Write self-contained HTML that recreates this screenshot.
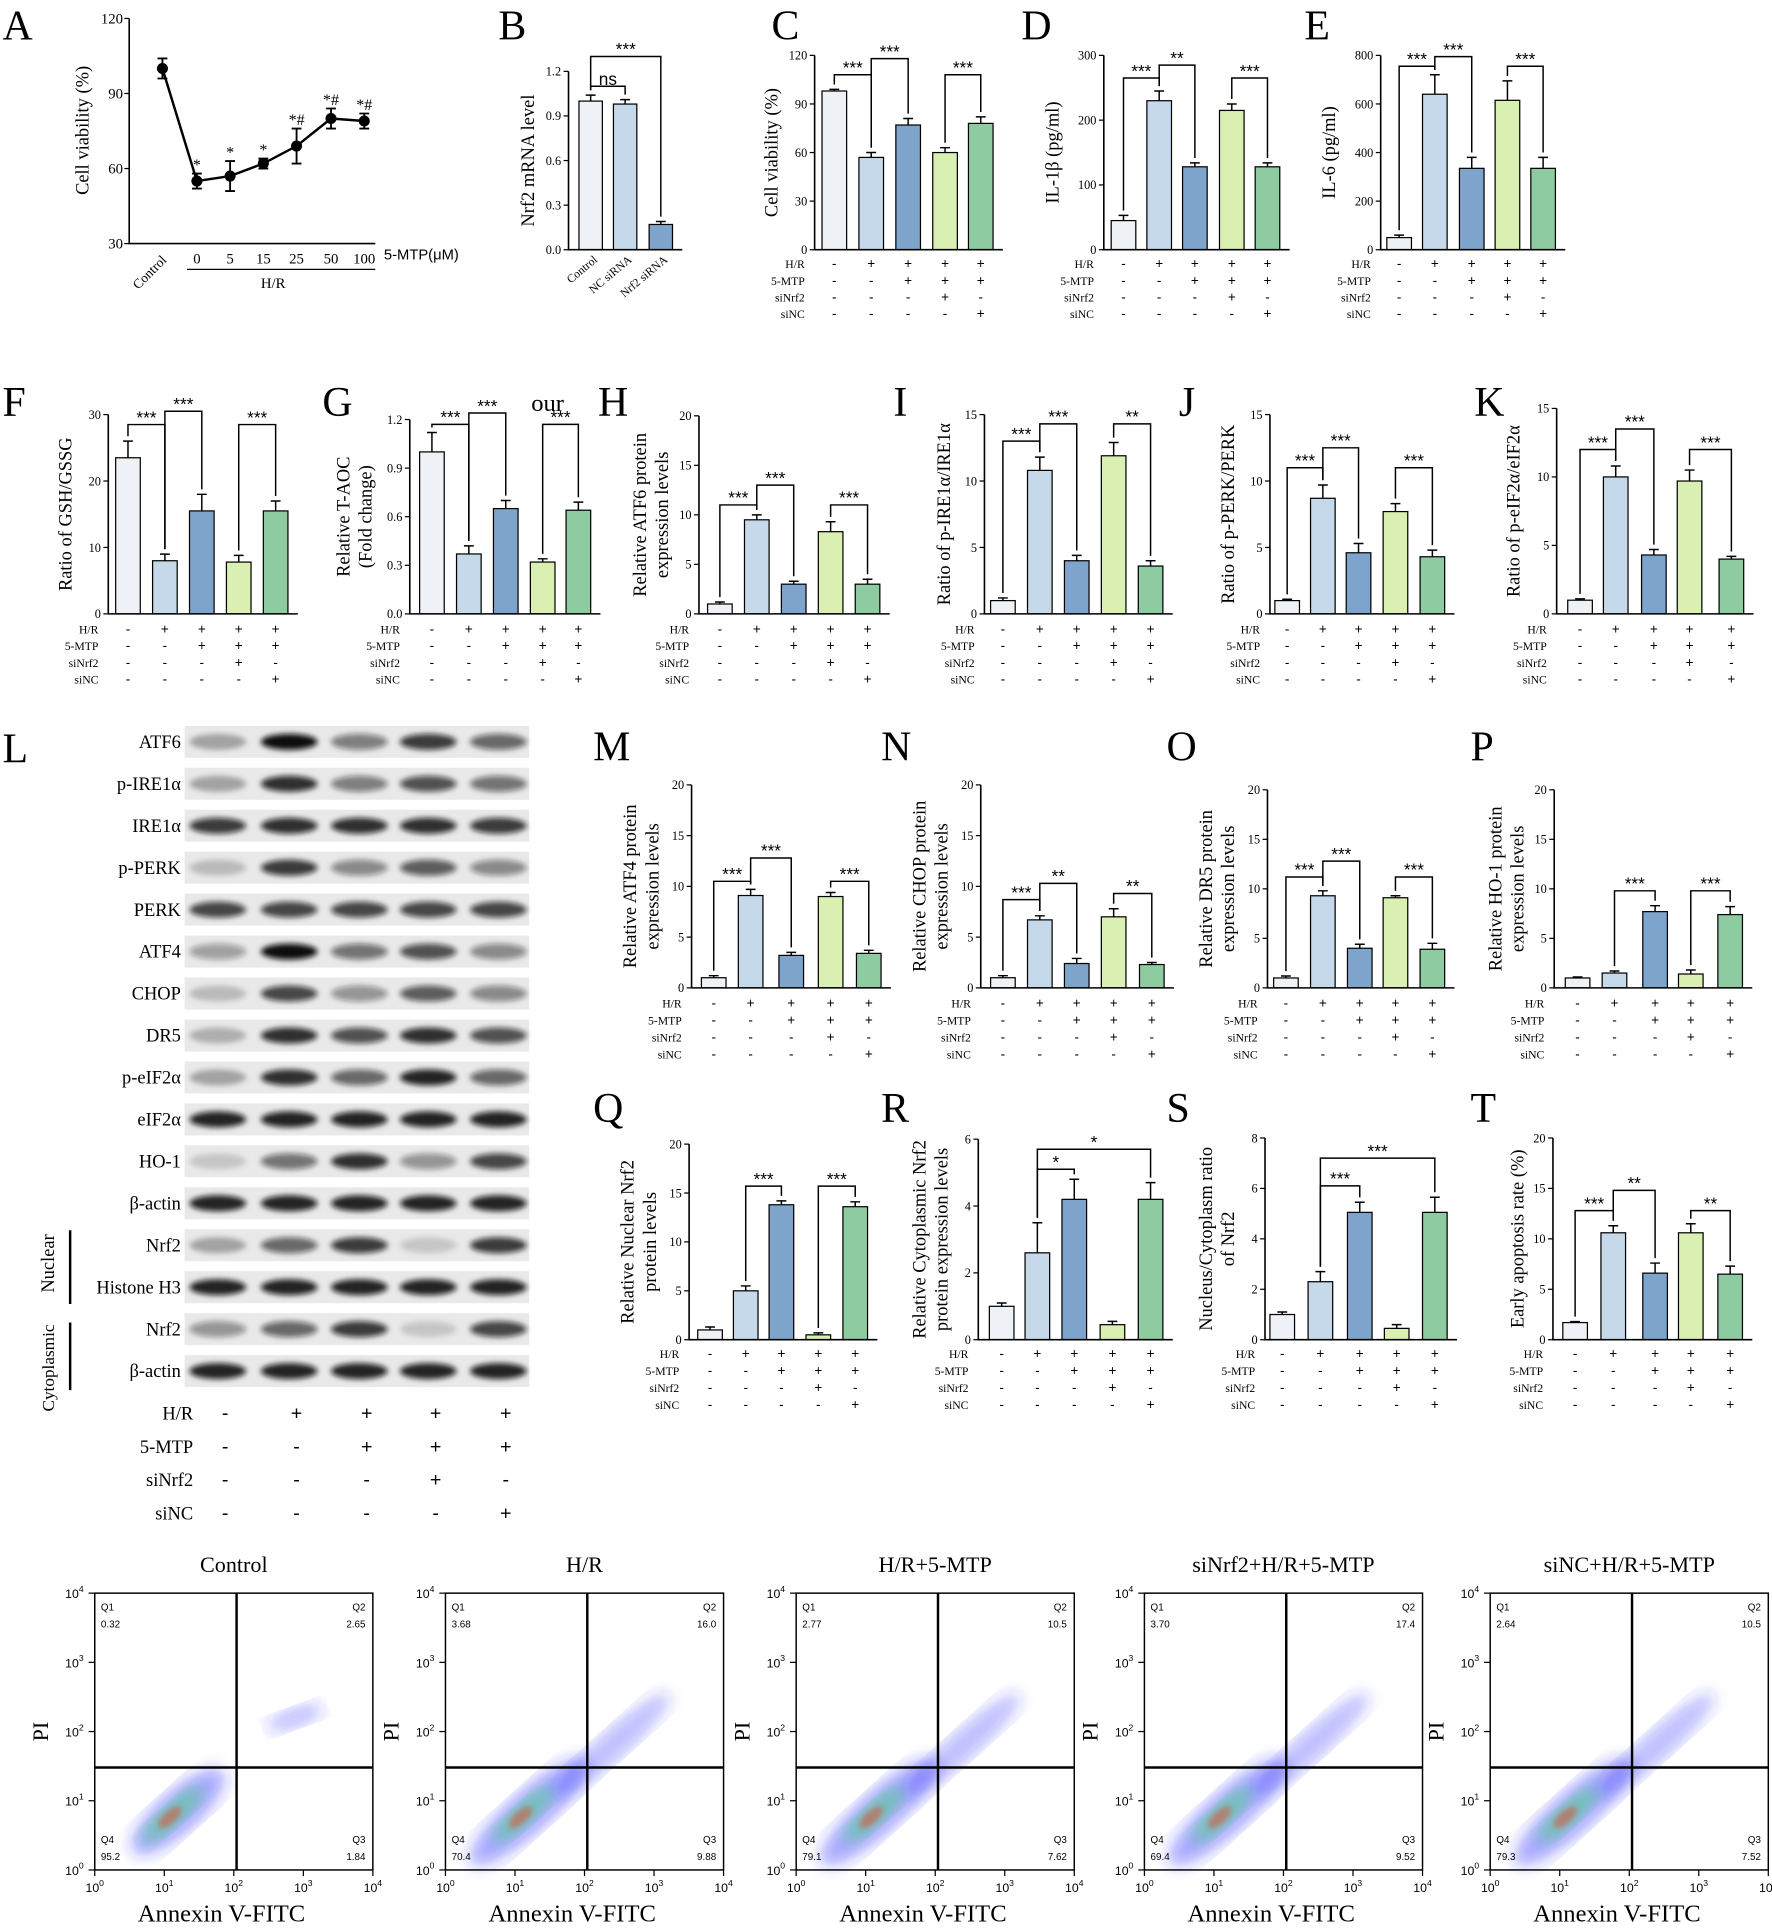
<!DOCTYPE html>
<html><head><meta charset="utf-8"><style>
html,body{margin:0;padding:0;background:#fff;}
svg{display:block;}
text{font-family:"Liberation Serif",serif;fill:#000;}
.sans{font-family:"Liberation Sans",sans-serif;}
</style></head><body>
<svg id="fig" width="1772" height="1929" viewBox="0 0 1440 1568" preserveAspectRatio="none" xmlns="http://www.w3.org/2000/svg">
<defs>
<filter id="blur" x="-20%" y="-50%" width="140%" height="200%"><feGaussianBlur stdDeviation="2.2"/></filter>
<filter id="blur2"><feGaussianBlur stdDeviation="6"/></filter>
</defs>
</svg>
<script>
// ---------- data ----------
const doseLabels = ['Control','0','5','15','25','50','100'];
const doseVals = [100,55,57,62,69,80,79];
const doseErr = [4,3,6,2,7,4,3];
const doseSig = ['','*','*','*','*#','*#','*#'];
const valsB = [1.0,0.98,0.17]; const errB = [0.04,0.03,0.02];
const valsC = [98,57,77,60,78]; const errC = [1,3,4,3,4];
const valsD = [45,230,128,215,128]; const errD = [8,15,6,10,6];
const valsE = [50,640,335,615,335]; const errE = [10,80,45,80,45];
const valsF = [23.5,8,15.5,7.8,15.5]; const errF = [2.5,1,2.5,1,1.5];
const valsG = [1.0,0.37,0.65,0.32,0.64]; const errG = [0.12,0.05,0.05,0.02,0.05];
const valsH = [1,9.5,3,8.3,3]; const errH = [0.2,0.5,0.3,1,0.5];
const valsI = [1,10.8,4,11.9,3.6]; const errI = [0.2,1,0.4,1,0.4];
const valsJ = [1,8.7,4.6,7.7,4.3]; const errJ = [0.1,1,0.7,0.6,0.5];
const valsK = [1,10,4.3,9.7,4]; const errK = [0.1,0.8,0.4,0.8,0.2];
const valsM = [1,9.1,3.2,9,3.4]; const errM = [0.2,0.6,0.3,0.4,0.3];
const valsN = [1,6.7,2.4,7,2.3]; const errN = [0.2,0.4,0.5,0.8,0.2];
const valsO = [1,9.3,4,9.1,3.9]; const errO = [0.2,0.5,0.4,0.2,0.6];
const valsP = [1,1.5,7.7,1.4,7.4]; const errP = [0.1,0.2,0.6,0.4,0.8];
const valsQ = [1,5,13.8,0.5,13.6]; const errQ = [0.3,0.5,0.4,0.2,0.5];
const valsR = [1,2.6,4.2,0.45,4.2]; const errR = [0.1,0.9,0.6,0.1,0.5];
const valsS = [1,2.3,5.05,0.45,5.05]; const errS = [0.1,0.4,0.4,0.15,0.6];
const valsT = [1.7,10.6,6.6,10.6,6.5]; const errT = [0.1,0.7,1,0.9,0.8];
const barColors = ['#eef2f6','#c6d9ea','#7fa4cb','#d9f0b2','#8ecba0'];
const signRows = [['H/R',['-','+','+','+','+']],['5-MTP',['-','-','+','+','+']],['siNrf2',['-','-','-','+','-']],['siNC',['-','-','-','-','+']]];
const blotLabels = ['ATF6','p-IRE1α','IRE1α','p-PERK','PERK','ATF4','CHOP','DR5','p-eIF2α','eIF2α','HO-1','β-actin','Nrf2','Histone H3','Nrf2','β-actin'];
const blotInt = [[.3,1,.5,.8,.6],[.3,.85,.5,.7,.55],[.8,.85,.85,.85,.8],[.2,.8,.45,.65,.45],[.75,.75,.75,.75,.75],[.35,1,.55,.7,.45],[.2,.75,.4,.65,.45],[.25,.85,.7,.85,.7],[.3,.85,.6,.9,.6],[.9,.9,.9,.9,.9],[.15,.55,.85,.4,.75],[.9,.9,.9,.9,.9],[.3,.6,.8,.15,.8],[.9,.9,.9,.9,.9],[.4,.6,.8,.15,.75],[.9,.9,.9,.9,.9]];
const flowTitles = ['Control','H/R','H/R+5-MTP','siNrf2+H/R+5-MTP','siNC+H/R+5-MTP'];
const flowQ1 = ['0.32','3.68','2.77','3.70','2.64'];
const flowQ2 = ['2.65','16.0','10.5','17.4','10.5'];
const flowQ3 = ['1.84','9.88','7.62','9.52','7.52'];
const flowQ4 = ['95.2','70.4','79.1','69.4','79.3'];

// ---------- helpers ----------
const NS='http://www.w3.org/2000/svg';
const svg=document.getElementById('fig');
function mk(tag,attrs,parent){const e=document.createElementNS(NS,tag);for(const k in attrs)e.setAttribute(k,attrs[k]);(parent||svg).appendChild(e);return e;}
function txt(x,y,s,size,anchor,parent,extra){const t=mk('text',Object.assign({x:x,y:y,'font-size':size,'text-anchor':anchor||'start'},extra||{}),parent);t.textContent=s;return t;}
function letter(x,y,s){const t=txt(x,y,s,34,'start');

}

function barPanel(o){
  const g=mk('g',{});
  
  
  const ys=v=>o.bottom-(v/o.max)*(o.bottom-o.top);
  const right=o.xs[o.xs.length-1]+o.bw/2+8;
  o.vals.forEach((v,i)=>{
    const r=mk('rect',{x:o.xs[i]-o.bw/2,y:ys(v),width:o.bw,height:o.bottom-ys(v),fill:(o.colors||barColors)[i],stroke:'#000','stroke-width':1},g);
    
    
    const e=o.errs[i];
    mk('path',{d:`M${o.xs[i]} ${ys(v)} V${ys(v+e)} M${o.xs[i]-4} ${ys(v+e)} H${o.xs[i]+4}`,stroke:'#000','stroke-width':1.2,fill:'none'},g);
  });
  const ax=mk('path',{d:`M${o.left} ${o.top} V${o.bottom} H${right}`,stroke:'#000','stroke-width':1.3,fill:'none'},g);
  
  
  for(let t=0;t<=o.max+1e-9;t+=o.step){
    const y=ys(t);
    mk('line',{x1:o.left-4,x2:o.left,y1:y,y2:y,stroke:'#000','stroke-width':1},g);
    const lab=o.dec?t.toFixed(o.dec):String(Math.round(t));
    txt(o.left-6,y+3.5,lab,10,'end',g);
  }
  const tl=o.title; const cx=o.titleX, cy=(o.top+o.bottom)/2;
  tl.forEach((s,k)=>{const t=txt(cx+k*18,cy,s,15,'middle',g,{transform:`rotate(-90 ${cx+k*18} ${cy})`});
    
    });
  (o.sig||[]).forEach(s=>{
    const [i,j,lab,yv]=s; const y=ys(yv);
    const yi=ys(o.vals[i]+o.errs[i])-4, yj=ys(o.vals[j]+o.errs[j])-4;
    mk('path',{d:`M${o.xs[i]} ${yi} V${y} H${o.xs[j]} V${yj}`,stroke:'#000','stroke-width':1.2,fill:'none'},g);
    txt((o.xs[i]+o.xs[j])/2,y-1,lab,14,'middle',g,{class:'sans'});
  });
  if(o.rows){
    signRows.forEach((r,k)=>{
      const y=o.rows[0]+k*o.rowGap;
      txt(o.left-8,y,r[0],9.5,'end',g);
      r[1].forEach((s,i)=>txt(o.xs[i],y,s,11,'middle',g,{class:'sans'}));
    });
  }
  return g;
}

// ---------- Panel A ----------
(function(){
  const g=mk('g',{});
  
  
  const left=105,top=15,bottom=198,ymin=30,ymax=120;
  const ys=v=>bottom-(v-ymin)/(ymax-ymin)*(bottom-top);
  const xs=[132,160,187,214,241,269,296];
  mk('path',{d:`M${left} ${top} V${bottom} H305`,stroke:'#000','stroke-width':1.3,fill:'none'},g);
  [30,60,90,120].forEach(t=>{mk('line',{x1:left-4,x2:left,y1:ys(t),y2:ys(t),stroke:'#000'},g);txt(left-5,ys(t)+4,String(t),12,'end',g);});
  let d='';
  doseVals.forEach((v,i)=>{d+=(i?'L':'M')+xs[i]+' '+ys(v);});
  const ln=mk('path',{d:d,stroke:'#000','stroke-width':2,fill:'none'},g);
  
  
  doseVals.forEach((v,i)=>{
    const e=doseErr[i];
    mk('path',{d:`M${xs[i]} ${ys(v-e)} V${ys(v+e)} M${xs[i]-4} ${ys(v+e)} H${xs[i]+4} M${xs[i]-4} ${ys(v-e)} H${xs[i]+4}`,stroke:'#000','stroke-width':1.5,fill:'none'},g);
    const c=mk('circle',{cx:xs[i],cy:ys(v),r:4.5,fill:'#000'},g);
    
    
    if(doseSig[i])txt(xs[i],ys(v+e)-3,doseSig[i],13,'middle',g);
    if(i===0)txt(xs[i]+4,212,doseLabels[i],11,'end',g,{transform:`rotate(-45 ${xs[i]+4} 212)`});
    else txt(xs[i],214,doseLabels[i],12,'middle',g);
  });
  txt(312,211,'5-MTP(μM)',12,'start',g,{class:'sans'});
  mk('line',{x1:152,x2:305,y1:219,y2:219,stroke:'#000'},g);
  txt(222,234,'H/R',12,'middle',g);
  const t=txt(72,106,'Cell viability (%)',15,'middle',g,{transform:'rotate(-90 72 106)'});
  
  
})();
letter(2,32,'A');

(function(){
  const g=barPanel({id:'b',left:462,top:58,bottom:203,max:1.2,step:0.3,dec:1,xs:[480,508,537],bw:19,vals:valsB,errs:errB,colors:['#eef2f6','#c6d9ea','#7fa4cb'],title:['Nrf2 mRNA level'],titleX:434,sig:[[0,1,'ns',1.1],[0,2,'***',1.3]]});
  ['Control','NC siRNA','Nrf2 siRNA'].forEach((s,i)=>txt([480,508,537][i]+6,212,s,9.5,'end',g,{transform:`rotate(-40 ${[480,508,537][i]+6} 212)`}));
})();
letter(405,32,'B');

barPanel({id:'c',left:662,top:45,bottom:203,max:120,step:30,xs:[678,708,738,768,797],bw:20,vals:valsC,errs:errC,title:['Cell viability (%)'],titleX:632,sig:[[0,1,'***',108],[1,2,'***',118],[3,4,'***',108]],rows:[218],rowGap:13.5});
letter(627,32,'C');
barPanel({id:'d',left:897,top:45,bottom:203,max:300,step:100,xs:[913,942,971,1001,1030],bw:20,vals:valsD,errs:errD,title:['IL-1β (pg/ml)'],titleX:860,sig:[[0,1,'***',265],[1,2,'**',285],[3,4,'***',265]],rows:[218],rowGap:13.5});
letter(830,32,'D');
barPanel({id:'e',left:1122,top:45,bottom:203,max:800,step:200,xs:[1137,1166,1196,1225,1254],bw:20,vals:valsE,errs:errE,title:['IL-6 (pg/ml)'],titleX:1085,sig:[[0,1,'***',755],[1,2,'***',795],[3,4,'***',755]],rows:[218],rowGap:13.5});
letter(1060,32,'E');

barPanel({id:'f',left:88,top:337,bottom:499,max:30,step:10,xs:[104,134,164,194,224],bw:20,vals:valsF,errs:errF,title:['Ratio of GSH/GSSG'],titleX:58,sig:[[0,1,'***',28.5],[1,2,'***',30.5],[3,4,'***',28.5]],rows:[515],rowGap:13.5});
letter(2,338,'F');
barPanel({id:'g',left:333,top:341,bottom:499,max:1.2,step:0.3,dec:1,xs:[351,381,411,441,470],bw:20,vals:valsG,errs:errG,title:['Relative T-AOC','(Fold change)'],titleX:284,sig:[[0,1,'***',1.17],[1,2,'***',1.24],[3,4,'***',1.17]],rows:[515],rowGap:13.5});
txt(445,334,'our',20,'middle');
letter(262,338,'G');
barPanel({id:'h',left:568,top:338,bottom:499,max:20,step:5,xs:[585,615,645,675,705],bw:20,vals:valsH,errs:errH,title:['Relative ATF6 protein','expression levels'],titleX:525,sig:[[0,1,'***',11],[1,2,'***',13],[3,4,'***',11]],rows:[515],rowGap:13.5});
letter(486,338,'H');
barPanel({id:'i',left:800,top:337,bottom:499,max:15,step:5,xs:[815,845,875,905,935],bw:20,vals:valsI,errs:errI,title:['Ratio of p-IRE1α/IRE1α'],titleX:772,sig:[[0,1,'***',13],[1,2,'***',14.3],[3,4,'**',14.3]],rows:[515],rowGap:13.5});
letter(726,338,'I');
barPanel({id:'j',left:1032,top:337,bottom:499,max:15,step:5,xs:[1046,1075,1104,1134,1164],bw:20,vals:valsJ,errs:errJ,title:['Ratio of p-PERK/PERK'],titleX:1003,sig:[[0,1,'***',11],[1,2,'***',12.5],[3,4,'***',11]],rows:[515],rowGap:13.5});
letter(958,338,'J');
barPanel({id:'k',left:1265,top:332,bottom:499,max:15,step:5,xs:[1284,1313,1344,1373,1407],bw:20,vals:valsK,errs:errK,title:['Ratio of p-eIF2α/eIF2α'],titleX:1235,sig:[[0,1,'***',12],[1,2,'***',13.5],[3,4,'***',12]],rows:[515],rowGap:13.5});
letter(1198,338,'K');

barPanel({id:'m',left:562,top:638,bottom:803,max:20,step:5,xs:[580,610,643,675,706],bw:20,vals:valsM,errs:errM,title:['Relative ATF4 protein','expression levels'],titleX:517,sig:[[0,1,'***',10.5],[1,2,'***',12.8],[3,4,'***',10.5]],rows:[819],rowGap:13.8});
letter(482,618,'M');
barPanel({id:'n',left:797,top:638,bottom:803,max:20,step:5,xs:[815,845,875,905,936],bw:20,vals:valsN,errs:errN,title:['Relative CHOP protein','expression levels'],titleX:752,sig:[[0,1,'***',8.7],[1,2,'**',10.3],[3,4,'**',9.3]],rows:[819],rowGap:13.8});
letter(716,618,'N');
barPanel({id:'o',left:1030,top:642,bottom:803,max:20,step:5,xs:[1045,1075,1105,1134,1164],bw:20,vals:valsO,errs:errO,title:['Relative DR5 protein','expression levels'],titleX:985,sig:[[0,1,'***',11.2],[1,2,'***',12.8],[3,4,'***',11.2]],rows:[819],rowGap:13.8});
letter(948,618,'O');
barPanel({id:'p',left:1263,top:642,bottom:803,max:20,step:5,xs:[1282,1312,1345,1374,1406],bw:20,vals:valsP,errs:errP,title:['Relative HO-1 protein','expression levels'],titleX:1220,sig:[[1,2,'***',9.8],[3,4,'***',9.8]],rows:[819],rowGap:13.8});
letter(1195,618,'P');

barPanel({id:'q',left:560,top:930,bottom:1089,max:20,step:5,xs:[577,606,635,665,695],bw:20,vals:valsQ,errs:errQ,title:['Relative Nuclear Nrf2','protein levels'],titleX:515,sig:[[1,2,'***',15.7],[3,4,'***',15.7]],rows:[1104],rowGap:13.8});
letter(482,912,'Q');
barPanel({id:'r',left:795,top:926,bottom:1089,max:6,step:2,xs:[814,843,873,904,935],bw:20,vals:valsR,errs:errR,title:['Relative Cytoplasmic Nrf2','protein expression levels'],titleX:752,sig:[[1,2,'*',5.1],[1,4,'*',5.7]],rows:[1104],rowGap:13.8});
letter(716,912,'R');
barPanel({id:'s',left:1028,top:925,bottom:1089,max:8,step:2,xs:[1042,1073,1105,1135,1166],bw:20,vals:valsS,errs:errS,title:['Nucleus/Cytoplasm ratio','of Nrf2'],titleX:985,sig:[[1,2,'***',6.1],[1,4,'***',7.2]],rows:[1104],rowGap:13.8});
letter(948,912,'S');
barPanel({id:'t',left:1262,top:925,bottom:1089,max:20,step:5,xs:[1280,1311,1345,1374,1406],bw:20,vals:valsT,errs:errT,title:['Early apoptosis rate (%)'],titleX:1238,sig:[[0,1,'***',12.8],[1,2,'**',14.8],[3,4,'**',12.8]],rows:[1104],rowGap:13.8});
letter(1195,912,'T');

// ---------- Panel L blot ----------
(function(){
  const g=mk('g',{});
  
  
  const lanes=[177,235,292,348,405];
  blotLabels.forEach((lab,r)=>{
    const yc=603+r*34.1;
    const bg=mk('rect',{x:150,y:yc-13,width:280,height:26,fill:'#e9e9e9'},g);
    
    
    blotInt[r].forEach((v,i)=>{
      mk('ellipse',{cx:lanes[i],cy:yc,rx:23,ry:6.5,fill:'#111','fill-opacity':v,filter:'url(#blur)'},g);
    });
    txt(147,yc+5,lab,15,'end',g);
  });
  txt(44,1027,'Nuclear',15,'middle',g,{transform:'rotate(-90 44 1027)'});
  txt(44,1112,'Cytoplasmic',14,'middle',g,{transform:'rotate(-90 44 1112)'});
  mk('line',{x1:57,x2:57,y1:1000,y2:1060,stroke:'#000','stroke-width':2},g);
  mk('line',{x1:57,x2:57,y1:1075,y2:1130,stroke:'#000','stroke-width':2},g);
  signRows.forEach((r,k)=>{
    const y=1154+k*27;
    txt(157,y,r[0],15,'end',g);
    r[1].forEach((s,i)=>txt(lanes[i]+6,y,s,16,'middle',g,{class:'sans'}));
  });
})();
letter(2,620,'L');

// ---------- Flow cytometry ----------
(function(){
  const bx=[77,362,647,930,1211];
  flowTitles.forEach((ttl,p)=>{
    const g=mk('g',{});
    
    
    const x0=bx[p],y0=1295,w=226,h=225;
    txt(x0+w/2,1278,ttl,18,'middle',g);
    const spread=p===0?0.7:0.9;
    const gx=x0+w*0.51, gy=y0+h*0.63;
    mk('ellipse',{cx:x0+w*0.3,cy:y0+h*0.79,rx:70*spread,ry:17,fill:'#2222ff','fill-opacity':0.4,transform:`rotate(-42 ${x0+w*0.3} ${y0+h*0.79})`,filter:'url(#blur2)'},g);
    if(p>0)mk('ellipse',{cx:x0+w*0.6,cy:y0+h*0.55,rx:62,ry:12,fill:'#3333ff','fill-opacity':0.3,transform:`rotate(-42 ${x0+w*0.6} ${y0+h*0.55})`,filter:'url(#blur2)'},g);
    else mk('ellipse',{cx:x0+w*0.72,cy:y0+h*0.45,rx:24,ry:8,fill:'#3333ff','fill-opacity':0.3,transform:`rotate(-20 ${x0+w*0.72} ${y0+h*0.45})`,filter:'url(#blur2)'},g);
    mk('ellipse',{cx:x0+w*0.28,cy:y0+h*0.8,rx:32,ry:9,fill:'#33dd66','fill-opacity':0.5,transform:`rotate(-42 ${x0+w*0.28} ${y0+h*0.8})`,filter:'url(#blur2)'},g);
    mk('ellipse',{cx:x0+w*0.27,cy:y0+h*0.81,rx:12,ry:5,fill:'#ee4422','fill-opacity':0.5,transform:`rotate(-42 ${x0+w*0.27} ${y0+h*0.81})`,filter:'url(#blur)'},g);
    mk('rect',{x:x0,y:y0,width:w,height:h,fill:'none',stroke:'#000','stroke-width':1.2},g);
    mk('line',{x1:gx,x2:gx,y1:y0,y2:y0+h,stroke:'#000','stroke-width':2},g);
    mk('line',{x1:x0,x2:x0+w,y1:gy,y2:gy,stroke:'#000','stroke-width':2},g);
    txt(x0+5,y0+14,'Q1',8,'start',g,{class:'sans'});txt(x0+5,y0+28,flowQ1[p],8,'start',g,{class:'sans'});
    txt(x0+w-6,y0+14,'Q2',8,'end',g,{class:'sans'});txt(x0+w-6,y0+28,flowQ2[p],8,'end',g,{class:'sans'});
    txt(x0+5,y0+h-22,'Q4',8,'start',g,{class:'sans'});txt(x0+5,y0+h-8,flowQ4[p],8,'start',g,{class:'sans'});
    txt(x0+w-6,y0+h-22,'Q3',8,'end',g,{class:'sans'});txt(x0+w-6,y0+h-8,flowQ3[p],8,'end',g,{class:'sans'});
    for(let k=0;k<=4;k++){
      const xx=x0+k*w/4, yy=y0+h-k*h/4;
      mk('line',{x1:xx,x2:xx,y1:y0+h,y2:y0+h+5,stroke:'#000'},g);
      mk('line',{x1:x0-5,x2:x0,y1:yy,y2:yy,stroke:'#000'},g);
      const tx=txt(xx,y0+h+18,'10',10,'middle',g,{class:'sans'});
      const sp=mk('tspan',{dy:-5,'font-size':7},tx);sp.textContent=String(k);
      const ty=txt(x0-9,yy+4,'10',10,'end',g,{class:'sans'});
      const sp2=mk('tspan',{dy:-5,'font-size':7},ty);sp2.textContent=String(k);
    }
    txt(x0+w/2-10,y0+h+42,'Annexin V-FITC',20,'middle',g);
    txt(x0-38,y0+h/2,'PI',18,'middle',g,{transform:`rotate(-90 ${x0-38} ${y0+h/2})`});
  });
})();
</script>
</body></html>
